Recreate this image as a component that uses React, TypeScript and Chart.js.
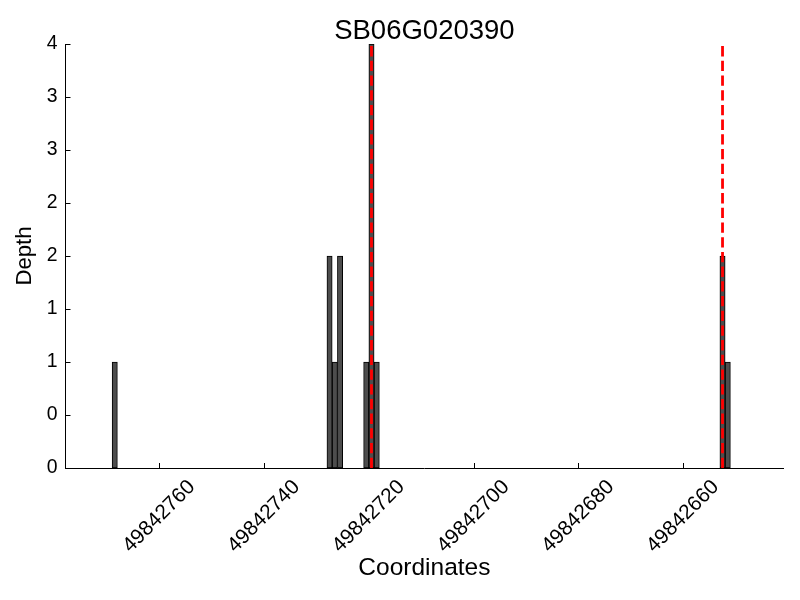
import React, { useEffect, useRef } from 'react';
import { Chart, registerables } from 'chart.js';

Chart.register(...registerables);

// ---- data ----
const chartTitle = 'SB06G020390';
const xLabel = 'Coordinates';
const yLabel = 'Depth';
// start coordinate of each 1-bp bin and its read depth
const binStarts = [49842768, 49842727, 49842726, 49842725, 49842720, 49842719, 49842718, 49842652, 49842651];
const depths = [1, 2, 1, 2, 1, 4, 1, 2, 1];
const BIN_WIDTH = 1;
// red dashed marker lines
const markerCoords = [49842719.5, 49842652.5];
const xTickValues = [49842760, 49842740, 49842720, 49842700, 49842680, 49842660];
const yTickValues = [0, 0.5, 1, 1.5, 2, 2.5, 3, 3.5, 4];
const yTickLabels = ['0', '0', '1', '1', '2', '2', '3', '3', '4'];
const xMin = 49842640.9;
const xMax = 49842777.9;
const yMin = 0;
const yMax = 4;

const FONT = '"Liberation Sans", Arial, Helvetica, sans-serif';

const titlePlugin = {
  id: 'mplTitle',
  afterDraw(chart: any) {
    const { ctx, chartArea } = chart;
    ctx.save();
    ctx.font = `27.5px ${FONT}`;
    ctx.fillStyle = '#000';
    ctx.textAlign = 'center';
    ctx.textBaseline = 'alphabetic';
    ctx.fillText(chartTitle, (chartArea.left + chartArea.right) / 2, 38.5);
    ctx.restore();
  },
};

const innerTicksPlugin = {
  id: 'innerTicks',
  beforeDatasetsDraw(chart: any) {
    const { ctx, chartArea, scales } = chart;
    ctx.save();
    ctx.strokeStyle = '#000';
    ctx.lineWidth = 1;
    ctx.beginPath();
    scales.x.ticks.forEach((t: any) => {
      const px = Math.round(scales.x.getPixelForValue(t.value)) + 0.5;
      ctx.moveTo(px, chartArea.bottom);
      ctx.lineTo(px, chartArea.bottom - 5);
    });
    scales.y.ticks.forEach((t: any) => {
      const py = Math.round(scales.y.getPixelForValue(t.value)) + 0.5;
      ctx.moveTo(chartArea.left, py);
      ctx.lineTo(chartArea.left + 5, py);
    });
    ctx.stroke();
    ctx.restore();
  },
};

export default function App() {
  const canvasRef = useRef<HTMLCanvasElement | null>(null);

  useEffect(() => {
    if (!canvasRef.current) return;
    const barData = binStarts.map((s, i) => ({ x: s + BIN_WIDTH / 2, y: depths[i] }));
    const markerSets = markerCoords.map((m) => ({
      type: 'line' as const,
      data: [
        { x: m, y: yMin },
        { x: m, y: yMax },
      ],
      borderColor: 'rgb(255,0,0)',
      borderWidth: 2.8,
      borderDash: [10.3, 4.4],
      pointRadius: 0,
      fill: false,
      order: 0,
    }));

    const chart = new Chart(canvasRef.current, {
      type: 'bar',
      data: {
        datasets: [
          {
            type: 'bar' as const,
            data: barData as any,
            backgroundColor: '#4d4d4d',
            borderColor: '#000',
            borderWidth: 1,
            borderSkipped: false,
            barPercentage: 1,
            categoryPercentage: 1,
            order: 1,
          },
          ...(markerSets as any[]),
        ],
      },
      plugins: [innerTicksPlugin, titlePlugin],
      options: {
        responsive: false,
        animation: false,
        layout: { padding: { top: 44, right: 16.7, left: 0, bottom: 0 } },
        plugins: {
          legend: { display: false },
          tooltip: { enabled: false },
          title: { display: false },
        },
        scales: {
          x: {
            type: 'linear',
            reverse: true,
            min: xMin,
            max: xMax,
            offset: false,
            grid: { display: false, drawTicks: false },
            border: { display: true, color: '#000', width: 1 },
            afterBuildTicks: (s: any) => {
              s.ticks = xTickValues.map((v) => ({ value: v }));
            },
            afterFit: (s: any) => {
              s.height = 132;
            },
            ticks: {
              autoSkip: false,
              minRotation: 45,
              maxRotation: 45,
              padding: 7,
              labelOffset: 32.5,
              color: '#000',
              font: { family: FONT, size: 20.8 },
              callback: (v: any) => String(v),
            },
            title: {
              display: true,
              text: xLabel,
              color: '#000',
              font: { family: FONT, size: 24.5 },
              padding: { top: 0, bottom: 17 },
            },
          },
          y: {
            type: 'linear',
            min: yMin,
            max: yMax,
            grid: { display: false, drawTicks: false },
            border: { display: true, color: '#000', width: 1 },
            afterBuildTicks: (s: any) => {
              s.ticks = yTickValues.map((v) => ({ value: v }));
            },
            afterFit: (s: any) => {
              s.width = 65.5;
            },
            ticks: {
              padding: 8,
              color: '#000',
              font: { family: FONT, size: 19.4 },
              callback: (_v: any, i: number) => yTickLabels[i],
            },
            title: {
              display: true,
              text: yLabel,
              color: '#000',
              font: { family: FONT, size: 22.2 },
              padding: { top: 12, bottom: 0 },
            },
          },
        },
      } as any,
    });
    return () => chart.destroy();
  }, []);

  return (
    <div style={{ position: 'fixed', left: 0, top: 0, width: 800, height: 600, background: '#fff' }}>
      <canvas ref={canvasRef} width={800} height={600} style={{ width: 800, height: 600, display: 'block' }} />
    </div>
  );
}
